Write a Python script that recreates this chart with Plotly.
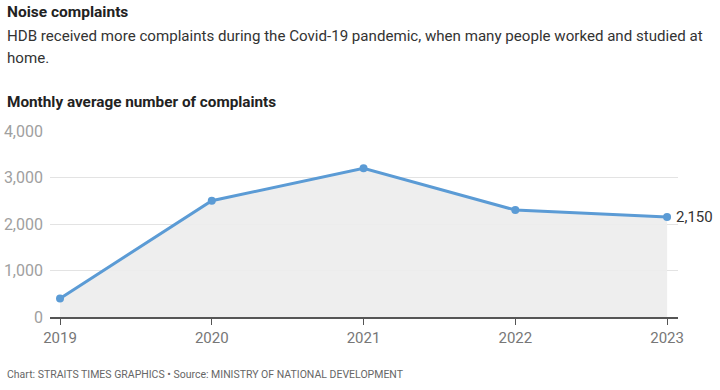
import plotly.graph_objects as go

years = [2019, 2020, 2021, 2022, 2023]
complaints = [400, 2500, 3200, 2300, 2150]
y_ticks = [0, 1000, 2000, 3000, 4000]
y_tick_labels = ["0", "1,000", "2,000", "3,000", "4,000"]
end_label = "2,150"

FONT = "Roboto"
LINE = "#5b9bd5"

fig = go.Figure()
fig.add_trace(go.Scatter(
    x=years, y=complaints, mode="lines+markers",
    line=dict(color=LINE, width=3),
    marker=dict(color=LINE, size=8),
    fill="tozeroy", fillcolor="rgba(236,236,236,0.9)",
    hoverinfo="skip", showlegend=False,
))

fig.add_annotation(x=years[-1], y=complaints[-1], text=end_label, showarrow=False,
                   xanchor="left", yanchor="middle", xshift=7,
                   font=dict(family=FONT, size=15, color="#333333"))

fig.update_layout(
    width=720, height=390,
    margin=dict(l=50, r=42, t=131, b=73),
    paper_bgcolor="white", plot_bgcolor="white",
    font=dict(family=FONT),
    xaxis=dict(range=[2018.934, 2023.072], tickvals=years, ticktext=[str(y) for y in years],
               showgrid=False, zeroline=False, showline=True, linecolor="#555555", linewidth=1.5,
               ticks="outside", ticklen=6, tickcolor="#555555", automargin=False,
               tickfont=dict(family=FONT, size=15, color="#777777")),
    yaxis=dict(range=[0, 4000], tickvals=y_ticks, ticktext=y_tick_labels,
               showgrid=True, gridcolor="#e3e3e3", gridwidth=1, zeroline=False,
               ticks="", ticklabelstandoff=6, automargin=False,
               tickfont=dict(family=FONT, size=16, color="#a0a0a0")),
)

def py(ypix):
    return (317 - ypix) / (317 - 131)

def px(xpix):
    return (xpix - 50) / 628

texts = [
    ("<b>Noise complaints</b>", 12, 15.5, "#222222"),
    ("HDB received more complaints during the Covid-19 pandemic, when many people worked and studied at", 36, 15.1, "#333333"),
    ("home.", 58, 15.1, "#333333"),
    ("<b>Monthly average number of complaints</b>", 102, 15.3, "#222222"),
    ("Chart: STRAITS TIMES GRAPHICS • Source: MINISTRY OF NATIONAL DEVELOPMENT", 374, 10.5, "#666666"),
]
for t, ypix, size, color in texts:
    fig.add_annotation(xref="paper", yref="paper", x=px(5), y=py(ypix), text=t,
                       showarrow=False, xanchor="left", yanchor="middle", align="left",
                       font=dict(family=FONT, size=size, color=color))

fig.write_html("out.html", config={"displayModeBar": False},
               post_script="document.body.style.margin='0';")
